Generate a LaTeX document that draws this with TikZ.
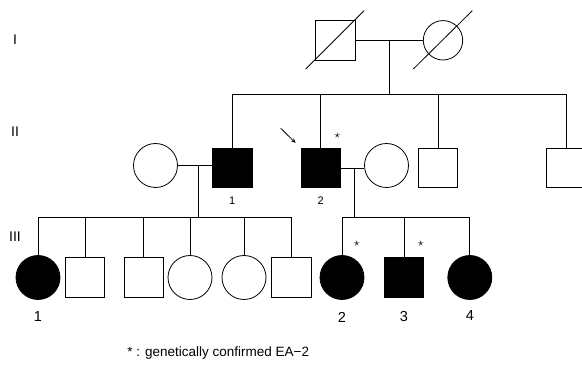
\documentclass[tikz,border=0pt]{standalone}
\usepackage{fontspec}
\setmainfont{Liberation Sans}
\usetikzlibrary{calc,arrows.meta}

\begin{document}
\begin{tikzpicture}[x=1pt,y=-1pt,line width=0.8pt]
\tikzset{
  male/.style={draw,rectangle,minimum size=39.4pt,inner sep=0pt},
  female/.style={draw,circle,minimum size=44pt,inner sep=0pt},
  maleA/.style={male,fill=black},
  femaleA/.style={female,fill=black},
  genlabel/.style={font=\fontsize{14}{14}\selectfont},
  idlabel/.style={font=\fontsize{14.5}{14.5}\selectfont},
  idsmall/.style={font=\fontsize{11}{11}\selectfont},
  marker/.style={font=\large,inner sep=0pt}
}
\clip (0,0) rectangle (582,366);
%%% generations
\node[genlabel] (gI) at (15,40) {I};
\node[genlabel] (gII) at (15,132) {II};
\node[genlabel] (gIII) at (15,237) {III};
%%% generation I
\node[male] (gpa) at (335.3,40.3) {};
\node[female,minimum size=39.4pt] (gma) at (443,40.3) {};
\draw ($(gpa)+(-29.6,28.7)$) -- ($(gpa)+(28.7,-29.6)$);
\draw ($(gma)+(-29.7,28.7)$) -- ($(gma)+(29.3,-29.6)$);
\draw (gpa) -- (gma) coordinate[midway] (ua);
\draw (ua) -- (ua |- 0,94.3);
%%% generation II
\node[maleA] (ii1) at (232.3,168) {};
\node[maleA] (ii2) at (320.7,168) {};
\node[male] (ii3) at (438,168) {};
\node[male] (ii4) at (566,168) {};
\foreach \k in {ii1,ii2,ii3,ii4}{%
  \draw (\k) -- (\k |- 0,94.3);
}
\draw (ii1 |- 0,94.3) -- (ii4 |- 0,94.3);
\node[female] (w1) at (155.5,165.5) {};
\node[female] (w2) at (386.5,165.5) {};
\draw (w1.east) -- (w1.east -| ii1.west) coordinate[pos=0.6] (la);
\draw (ii2.east) -- (ii2.east -| w2.west) coordinate[pos=0.6] (ra);
\node[idsmall] (n21) at (ii1 |- 0,201) {1};
\node[idsmall] (n22) at (ii2 |- 0,201) {2};
\node[marker] (s22) at (337.3,136) {$\star$};
\coordinate (pa) at (280.7,128.3);
\draw[-{Stealth[length=4.5pt,width=4pt]}] (pa) -- ([shift={(-5,-5)}]ii2.north west);
%%% generation III
\draw (la) -- (la |- 0,217.3);
\draw (ra) -- (ra |- 0,217.3);
\foreach \nm/\xx/\sty in {c1/38/femaleA,c2/85/male,c3/143.8/male,c4/190/female,c5/244/female,c6/291.3/male,d1/342/femaleA,d2/404/maleA,d3/469.8/femaleA}{%
  \node[\sty] (\nm) at (\xx,277.5) {};
  \draw (\nm) -- (\nm |- 0,217.3);
}
\draw (c1 |- 0,217.3) -- (c6 |- 0,217.3);
\draw (d1 |- 0,217.3) -- (d3 |- 0,217.3);
\node[idlabel] (n31) at (c1 |- 0,317) {1};
\node[idlabel] (n32) at (d1 |- 0,317) {2};
\node[idlabel] (n33) at (d2 |- 0,317) {3};
\node[idlabel] (n34) at (d3 |- 0,315.5) {4};
\node[marker] (s32) at (356.7,244) {$\star$};
\node[marker] (s33) at (420.7,244) {$\star$};
%%% legend
\node[anchor=base west,font=\fontsize{13.5}{13.5}\selectfont,inner sep=0pt] (key) at (127,357) {* : genetically confirmed EA−2};
\end{tikzpicture}
\end{document}
